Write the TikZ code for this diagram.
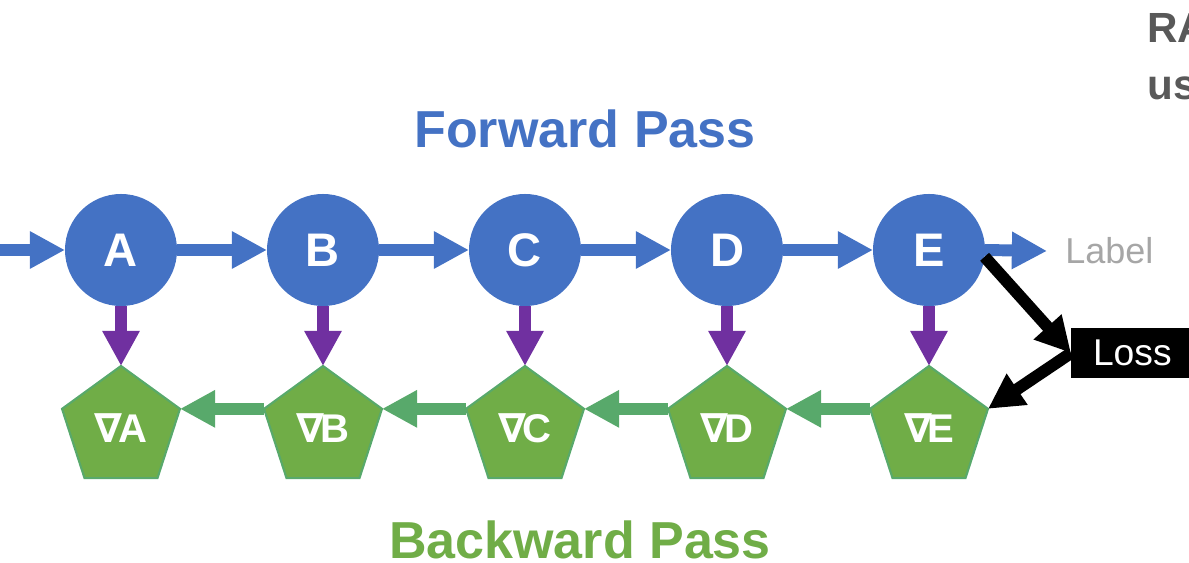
\documentclass[tikz,border=0pt]{standalone}
\usepackage{fontspec}
\setmainfont{Liberation Sans}
\newfontfamily\nablafont{DejaVu Sans}
\usetikzlibrary{shapes.geometric,arrows.meta}
\definecolor{fwdblue}{HTML}{4472C4}
\definecolor{gradfill}{HTML}{70AD47}
\definecolor{gradline}{HTML}{58A96B}
\definecolor{linkpurple}{HTML}{7030A0}
\definecolor{labelgray}{HTML}{A6A6A6}
\definecolor{headgray}{HTML}{595959}
\begin{document}
\begin{tikzpicture}[x=0.025cm,y=-0.025cm,
  fnode/.style={circle, fill=fwdblue, inner sep=0, outer sep=0, minimum size=2.8cm, text=white, font=\fontsize{33.5}{40}\selectfont\bfseries},
  gnode/.style={regular polygon, regular polygon sides=5, fill=gradfill, draw=gradline, line width=1.5pt, inner sep=0, outer sep=0, minimum size=3.1cm, text=white, font=\fontsize{28.5}{34}\selectfont\bfseries},
  title/.style={font=\fontsize{37}{44}\selectfont\bfseries, inner sep=0},
  tip/.style={-{Triangle[length=25pt,width=25pt]}, line width=8.5pt},
  fwd/.style={tip, fwdblue},
  bwd/.style={tip, gradline},
  link/.style={tip, linkpurple},
  lossarrow/.style={tip, black}]
\useasboundingbox (0,0) rectangle (1189,563);
% headings
\node[title, text=fwdblue] (fwdtitle) at (585,129) {Forward Pass};
\node[title, text=gradfill] (bwdtitle) at (580,540) {Backward Pass};
\node[font=\fontsize{30}{36}\selectfont\bfseries, text=headgray, anchor=base west, inner sep=0] (side1) at (1147,43) {RA};
\node[font=\fontsize{30}{36}\selectfont\bfseries, text=headgray, anchor=base west, inner sep=0] (side2) at (1147,100) {us};
% forward nodes
\coordinate (in) at (-5,250);
\node[fnode] (fA) at (121,250) {A};
\node[fnode] (fB) at (323,250) {B};
\node[fnode] (fC) at (525,250) {C};
\node[fnode] (fD) at (727,250) {D};
\node[fnode] (fE) at (929,250) {E};
% gradient nodes
\node[gnode] (gA) at (121,428) {{\nablafont\char"2207}\kern-0.12em A};
\node[gnode] (gB) at (323,428) {{\nablafont\char"2207}\kern-0.12em B};
\node[gnode] (gC) at (525,428) {{\nablafont\char"2207}\kern-0.12em C};
\node[gnode] (gD) at (727,428) {{\nablafont\char"2207}\kern-0.12em D};
\node[gnode] (gE) at (929,428) {{\nablafont\char"2207}\kern-0.12em E};
% label and loss
\node[text=labelgray, font=\fontsize{25.6}{30}\selectfont, anchor=west, inner xsep=0.45cm, inner ysep=0] (label) at (1047,251) {Label};
\node[fill=black, text=white, font=\fontsize{26.5}{32}\selectfont, anchor=west, minimum height=1.25cm, inner xsep=0.55cm, inner ysep=0, outer sep=0] (loss) at (1071,353) {Loss};
% forward pass
\draw[fwd] (in) -- (fA.west);
\draw[fwd] (fA.east) -- (fB.west);
\draw[fwd] (fB.east) -- (fC.west);
\draw[fwd] (fC.east) -- (fD.west);
\draw[fwd] (fD.east) -- (fE.west);
\draw[fwd] (fE.east) -- (label.west);
% down links
\draw[link] (fA.south) -- (gA.corner 1);
\draw[link] (fB.south) -- (gB.corner 1);
\draw[link] (fC.south) -- (gC.corner 1);
\draw[link] (fD.south) -- (gD.corner 1);
\draw[link] (fE.south) -- (gE.corner 1);
% backward pass
\draw[bwd] (gB.corner 2) -- (gA.corner 5);
\draw[bwd] (gC.corner 2) -- (gB.corner 5);
\draw[bwd] (gD.corner 2) -- (gC.corner 5);
\draw[bwd] (gE.corner 2) -- (gD.corner 5);
% loss
\draw[lossarrow] (fE.-7) -- (loss.west);
\draw[lossarrow] (loss.west) -- (gE.corner 5);
\end{tikzpicture}
\end{document}
